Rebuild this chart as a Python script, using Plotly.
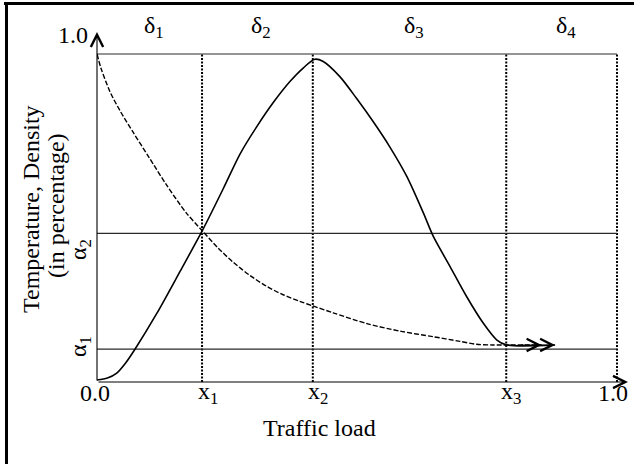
import plotly.graph_objects as go

# ---------------- data ----------------
TEMP_X = [0.000, 0.020, 0.038, 0.055, 0.073, 0.115, 0.160, 0.203, 0.243, 0.275, 0.307,
          0.339, 0.371, 0.397, 0.419, 0.435, 0.467, 0.499, 0.531, 0.563, 0.596, 0.628,
          0.647, 0.679, 0.711, 0.743, 0.769, 0.788, 0.881]
TEMP_Y = [0.006, 0.012, 0.027, 0.058, 0.100, 0.209, 0.338, 0.463, 0.590, 0.695, 0.778,
          0.852, 0.916, 0.958, 0.984, 0.977, 0.931, 0.865, 0.794, 0.717, 0.626, 0.514,
          0.443, 0.352, 0.260, 0.179, 0.128, 0.113, 0.113]

DENS_X = [0.000, 0.008, 0.025, 0.045, 0.070, 0.100, 0.134, 0.172, 0.202, 0.232, 0.262,
          0.294, 0.326, 0.358, 0.390, 0.415, 0.454, 0.519, 0.583, 0.647, 0.698, 0.730,
          0.760, 0.855]
DENS_Y = [1.000, 0.955, 0.885, 0.825, 0.760, 0.685, 0.600, 0.515, 0.462, 0.410, 0.365,
          0.325, 0.292, 0.266, 0.246, 0.232, 0.211, 0.178, 0.155, 0.138, 0.124, 0.115,
          0.113, 0.113]

X_MARKS = [0.202, 0.415, 0.787, 1.0]          # x1, x2, x3, 1.0 (dotted verticals)
X_TICK_VALS = [0.0, 0.202, 0.415, 0.787, 1.0]
X_TICK_TEXT = ["0.0", "x<sub>1</sub>", "x<sub>2</sub>", "x<sub>3</sub>", "1.0"]
ALPHA_VALS = [0.100, 0.453]
ALPHA_TEXT = ["α<sub>1</sub>", "α<sub>2</sub>"]
TOP_VAL = 1.0
REGION_TEXT = ["δ<sub>1</sub>", "δ<sub>2</sub>", "δ<sub>3</sub>", "δ<sub>4</sub>"]
X_TITLE = "Traffic load"
Y_TITLE = ["Temperature, Density", "(in percentage)"]

# ---------------- layout geometry ----------------
W, H = 634, 464
L, R, T, B = 97, 6, 32, 82
PW, PH = W - L - R, H - T - B
X_MAX = PW / 520.0
Y_MAX = PH / 328.0
FONT = "Liberation Serif"
FS = 24


def xp(px):
    return (px - L) / PW


def yp(py):
    return (H - B - py) / PH


fig = go.Figure()

# dotted verticals
for xv in X_MARKS:
    fig.add_trace(go.Scatter(x=[xv, xv], y=[0, TOP_VAL], mode="lines",
                             line=dict(color="black", width=2, dash="2px,1.5px"),
                             hoverinfo="skip", showlegend=False))

# horizontal reference lines
for yv in [TOP_VAL] + ALPHA_VALS:
    fig.add_trace(go.Scatter(x=[0, 1.0], y=[yv, yv], mode="lines",
                             line=dict(color="#2a2a2a", width=1.2),
                             hoverinfo="skip", showlegend=False))

# curves
fig.add_trace(go.Scatter(x=TEMP_X, y=TEMP_Y, mode="lines",
                         line=dict(color="black", width=1.6, shape="spline", smoothing=0.8),
                         showlegend=False, name="Temperature"))
fig.add_trace(go.Scatter(x=DENS_X, y=DENS_Y, mode="lines",
                         line=dict(color="black", width=1.4, dash="5px,2px",
                                   shape="spline", smoothing=0.8),
                         showlegend=False, name="Density"))

ann = []
ARW = dict(showarrow=True, arrowhead=5, arrowsize=2.2, arrowwidth=1.1, arrowcolor="black")
# axis arrows
ann.append(dict(x=0, y=Y_MAX, ax=0, ay=0, xref="x", yref="y", axref="x", ayref="y",
                text="", **ARW))
ann.append(dict(x=X_MAX, y=0, ax=0, ay=0, xref="x", yref="y", axref="x", ayref="y",
                text="", **ARW))
# curve-end arrows
for xs, ys in [(TEMP_X, TEMP_Y), (DENS_X, DENS_Y)]:
    ann.append(dict(x=xs[-1], y=ys[-1], ax=-22, ay=0, xref="x", yref="y",
                    text="", **ARW))

# x tick labels
shifts = [-2, 6, 5, 5, -4]
for v, t, s in zip(X_TICK_VALS, X_TICK_TEXT, shifts):
    ann.append(dict(x=v, y=0, xref="x", yref="y", text=t, showarrow=False,
                    xanchor="center", yanchor="middle", xshift=s, yshift=-11,
                    font=dict(family=FONT, size=FS, color="black")))
# y labels
ann.append(dict(x=xp(73), y=yp(35), xref="paper", yref="paper", text="1.0",
                showarrow=False, xanchor="center", yanchor="middle",
                font=dict(family=FONT, size=FS, color="black")))
for v, t, py in zip(ALPHA_VALS, ALPHA_TEXT, [347, 250]):
    ann.append(dict(x=xp(80), y=yp(py), xref="paper", yref="paper", text=t,
                    showarrow=False, textangle=-90, xanchor="center", yanchor="middle",
                    font=dict(family=FONT, size=FS, color="black")))
# region labels
bounds = [0.0] + X_MARKS
for i, t in enumerate(REGION_TEXT):
    ann.append(dict(x=(bounds[i] + bounds[i + 1]) / 2, y=yp(27), xref="x", yref="paper",
                    text=t, showarrow=False, xanchor="center", yanchor="middle",
                    xshift=4, font=dict(family=FONT, size=FS, color="black")))
# titles
ann.append(dict(x=xp(319), y=yp(428), xref="paper", yref="paper", text=X_TITLE,
                showarrow=False, xanchor="center", yanchor="middle",
                font=dict(family=FONT, size=FS, color="black")))
for t, px_, py_ in zip(Y_TITLE, [31, 56], [209, 206]):
    ann.append(dict(x=xp(px_), y=yp(py_), xref="paper", yref="paper", text=t,
                    showarrow=False, textangle=-90, xanchor="center", yanchor="middle",
                    font=dict(family=FONT, size=FS, color="black")))

shapes = [
    dict(type="line", xref="paper", yref="paper", x0=xp(4), x1=xp(640),
         y0=yp(3.5), y1=yp(3.5), line=dict(color="black", width=3)),
    dict(type="line", xref="paper", yref="paper", x0=xp(6.5), x1=xp(6.5),
         y0=yp(2), y1=yp(470), line=dict(color="black", width=3)),
]

fig.update_layout(
    width=W, height=H,
    margin=dict(l=L, r=R, t=T, b=B, pad=0),
    paper_bgcolor="white", plot_bgcolor="white",
    xaxis=dict(range=[0, X_MAX], showgrid=False, zeroline=False, showline=False,
               showticklabels=False, ticks="", fixedrange=True),
    yaxis=dict(range=[0, Y_MAX], showgrid=False, zeroline=False, showline=False,
               showticklabels=False, ticks="", fixedrange=True),
    annotations=ann, shapes=shapes, showlegend=False,
    font=dict(family=FONT, size=FS, color="black"),
)

fig.write_html("out.html")
